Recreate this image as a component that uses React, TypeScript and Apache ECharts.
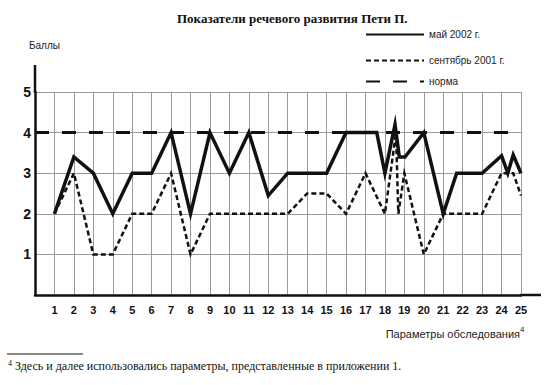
import React, { useEffect, useRef } from "react";
import * as echarts from "echarts";

const chartTitle = "Показатели речевого развития Пети П.";
const yAxisName = "Баллы";
const xAxisName = "Параметры обследования";
const footnoteMark = "4";
const footnoteText = "Здесь и далее использовались параметры, представленные в приложении 1.";
const seriesNames = ["май 2002 г.", "сентябрь 2001 г.", "норма"];

// [parameter position, score]
const may2002: [number, number][] = [
  [1, 2], [2, 3.4], [3, 3], [4, 2], [5, 3], [6, 3], [7, 4], [8, 2], [9, 4], [10, 3],
  [11, 4], [12, 2.45], [13, 3], [14, 3], [15, 3], [16, 4], [17, 4], [17.58, 4], [18, 3],
  [18.52, 4.2], [18.74, 3.4], [19.03, 3.4], [20, 4], [21, 2], [21.69, 3], [22, 3], [23, 3],
  [24, 3.43], [24.32, 3], [24.6, 3.45], [25, 3],
];
const sep2001: [number, number][] = [
  [1, 2], [2, 3], [3, 1], [4, 1], [5, 2], [6, 2], [7, 3], [8, 1], [9, 2], [10, 2],
  [11, 2], [12, 2], [13, 2], [14, 2.5], [15, 2.5], [16, 2], [17, 3], [18, 2], [18.57, 4],
  [18.69, 2], [19, 3], [20, 1], [21, 2], [22, 2], [23, 2], [24, 3], [24.6, 3], [25, 2.45],
];
const norm: [number, number][] = [[0, 4], [25, 4]];

const xMin = 0;
const xMax = 25;
const yMin = 0;
const yMax = 5;

const INK = "#111";
const SANS = "Liberation Sans, Arial, sans-serif";
const SERIF = "Liberation Serif, Times New Roman, serif";

export default function App() {
  const ref = useRef<HTMLDivElement>(null);
  useEffect(() => {
    document.body.style.margin = "0";
    if (!ref.current) return;
    const chart = echarts.init(ref.current, null, { renderer: "svg" });
    const legendBase = {
      orient: "vertical",
      left: 365,
      padding: 0,
      itemWidth: 58,
      itemHeight: 14,
      itemGap: 0,
      itemStyle: { opacity: 0 },
      textStyle: { fontSize: 10, color: "#222", fontFamily: SANS },
    };
    chart.setOption({
      animation: false,
      backgroundColor: "#fff",
      title: {
        text: chartTitle,
        left: 172,
        top: 7,
        textStyle: { fontSize: 13, fontWeight: "bold", fontFamily: SERIF, color: INK },
      },
      legend: [
        { ...legendBase, top: 29, data: [seriesNames[0]] },
        { ...legendBase, top: 55, data: [seriesNames[1]] },
        { ...legendBase, top: 76, data: [seriesNames[2]] },
      ],
      grid: { left: 35, top: 92, width: 486, height: 203, containLabel: false },
      xAxis: {
        type: "value",
        min: xMin,
        max: xMax,
        interval: 1,
        axisLine: { show: true, lineStyle: { color: INK, width: 2.5 } },
        axisTick: { show: false },
        splitLine: { show: true, lineStyle: { color: "#9a9a9a", width: 1 } },
        axisLabel: {
          margin: 9,
          fontSize: 11,
          fontWeight: "bold",
          fontFamily: SANS,
          color: INK,
          formatter: (v: number) => (v === 0 ? "" : String(v)),
        },
      },
      yAxis: {
        type: "value",
        min: yMin,
        max: yMax,
        interval: 1,
        axisLine: { show: true, lineStyle: { color: INK, width: 2.5 } },
        axisTick: { show: false },
        splitLine: { show: true, lineStyle: { color: "#9a9a9a", width: 1 } },
        axisLabel: {
          margin: 4,
          fontSize: 14,
          fontWeight: "bold",
          fontFamily: SANS,
          color: INK,
          formatter: (v: number) => (v === 0 ? "" : String(v)),
        },
      },
      series: [
        {
          name: seriesNames[2],
          type: "line",
          data: norm,
          symbol: "none",
          lineStyle: { color: INK, width: 3, type: [14, 13] },
          itemStyle: { color: INK },
          z: 2,
        },
        {
          name: seriesNames[1],
          type: "line",
          data: sep2001,
          symbol: "none",
          lineStyle: { color: INK, width: 2.5, type: [5, 3], join: "miter", miterLimit: 6 },
          itemStyle: { color: INK },
          z: 3,
        },
        {
          name: seriesNames[0],
          type: "line",
          data: may2002,
          symbol: "none",
          lineStyle: { color: INK, width: 3.5, join: "miter", miterLimit: 6 },
          itemStyle: { color: INK },
          z: 4,
        },
      ],
      graphic: [
        { type: "line", shape: { x1: 35, y1: 65, x2: 35, y2: 93 }, style: { stroke: INK, lineWidth: 2.5 } },
        { type: "line", shape: { x1: 520, y1: 295, x2: 541, y2: 295 }, style: { stroke: INK, lineWidth: 2.5 } },
        {
          type: "text",
          x: 29,
          y: 45,
          style: { text: yAxisName, fontSize: 10, fontFamily: SANS, fill: "#222", textVerticalAlign: "middle" },
        },
        {
          type: "text",
          x: 520,
          y: 334,
          style: {
            text: xAxisName,
            fontSize: 11,
            fontFamily: SANS,
            fill: "#222",
            textAlign: "right",
            textVerticalAlign: "middle",
          },
        },
        {
          type: "text",
          x: 520,
          y: 329,
          style: { text: footnoteMark, fontSize: 8, fontFamily: SANS, fill: "#222", textVerticalAlign: "middle" },
        },
        { type: "line", shape: { x1: 7, y1: 354, x2: 83, y2: 354 }, style: { stroke: INK, lineWidth: 1 } },
        {
          type: "text",
          x: 8,
          y: 363,
          style: { text: footnoteMark, fontSize: 8, fontFamily: SERIF, fill: INK, textVerticalAlign: "middle" },
        },
        {
          type: "text",
          x: 15,
          y: 366,
          style: { text: footnoteText, fontSize: 12, fontFamily: SERIF, fill: INK, textVerticalAlign: "middle" },
        },
      ],
    });
    return () => chart.dispose();
  }, []);
  return <div ref={ref} style={{ width: 553, height: 385 }} />;
}
